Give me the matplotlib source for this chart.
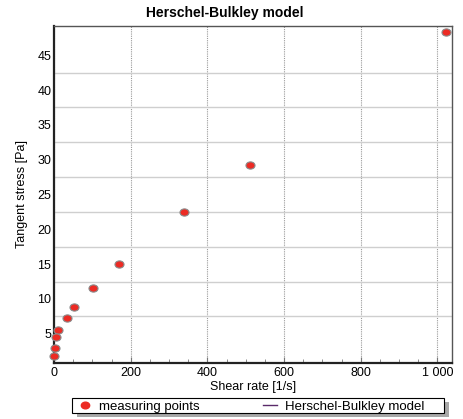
import numpy as np
import matplotlib
matplotlib.use("Agg")
from matplotlib import pyplot as plt
from matplotlib.lines import Line2D
from matplotlib.patches import Rectangle
from matplotlib.path import Path
from matplotlib.transforms import Affine2D
from matplotlib.ticker import FixedLocator, MultipleLocator, FuncFormatter

shear_rate = [1022, 511, 340, 170, 102, 51, 34, 10.2, 5.1, 3.0, 1.0]
stress = [48.4, 29.2, 22.5, 15.0, 11.6, 8.8, 7.2, 5.6, 4.6, 3.0, 1.8]

y_ticks = [5, 10, 15, 20, 25, 30, 35, 40, 45]
y_grid = [7.5, 12.5, 17.5, 22.5, 27.5, 32.5, 37.5, 42.5]
x_ticks = [0, 200, 400, 600, 800, 1000]

plt.rcParams["font.family"] = ["Liberation Sans", "DejaVu Sans"]

# flat ellipse marker like the original software
ellipse = Path.unit_circle().transformed(Affine2D().scale(1.25, 1.0))

W, H = 464, 419
fig = plt.figure(figsize=(W / 100, H / 100), dpi=100)
ax = fig.add_axes([0.1164, 0.1336, 0.8576, 0.8044])

ax.plot(shear_rate, stress, linestyle="none", marker=ellipse, markersize=6.5,
        markerfacecolor="#ec2b24", markeredgecolor="#8a8a8a", markeredgewidth=0.8,
        zorder=5, clip_on=False)

ax.set_xlim(0, 1038)
ax.set_ylim(0.8, 49.2)

ax.xaxis.set_major_locator(FixedLocator(x_ticks))
ax.xaxis.set_minor_locator(MultipleLocator(50))
ax.xaxis.set_major_formatter(FuncFormatter(lambda v, p: f"{int(v):,}".replace(",", " ")))
ax.yaxis.set_major_locator(FixedLocator(y_ticks))
ax.yaxis.set_minor_locator(FixedLocator(y_grid))

ax.grid(axis="x", which="major", color="#9a9a9a", linestyle=(0, (1, 1)), linewidth=0.8)
ax.grid(axis="y", which="minor", color="#cfcfcf", linestyle="-", linewidth=1.0)
ax.grid(axis="y", which="major", visible=False)

ax.tick_params(axis="x", which="major", direction="in", length=4, width=0.8,
               color="#777777", labelsize=9, pad=3)
ax.tick_params(axis="x", which="minor", direction="in", length=3, width=0.6, color="#777777")
ax.tick_params(axis="y", which="both", length=0, labelsize=9, pad=2)

for side in ["left", "bottom"]:
    ax.spines[side].set_color("#222222")
    ax.spines[side].set_linewidth(1.6)
for side in ["top", "right"]:
    ax.spines[side].set_color("#555555")
    ax.spines[side].set_linewidth(1.0)

fig.text(0.485, 0.968, "Herschel-Bulkley model", fontsize=10, fontweight="bold",
         ha="center", va="center")
ax.set_xlabel("Shear rate [1/s]", fontsize=9, labelpad=1)
ax.set_ylabel("Tangent stress [Pa]", fontsize=9, labelpad=7)

# legend box with a flat gray drop shadow, drawn by hand
box_x0, box_x1, box_y0, box_y1 = 72, 444, 6, 21
fig.patches.append(Rectangle(((box_x0 + 5) / W, (box_y0 - 4) / H), (box_x1 - box_x0) / W,
                             (box_y1 - box_y0) / H, transform=fig.transFigure,
                             facecolor="#a8a8a8", edgecolor="none", zorder=0))
fig.patches.append(Rectangle((box_x0 / W, box_y0 / H), (box_x1 - box_x0) / W,
                             (box_y1 - box_y0) / H, transform=fig.transFigure,
                             facecolor="white", edgecolor="black", linewidth=0.8, zorder=1))

handles = [
    Line2D([], [], linestyle="none", marker=ellipse, markersize=6,
           markerfacecolor="#ec2b24", markeredgecolor="#ec2b24"),
    Line2D([], [], color="#5a2a6a", linewidth=1.0),
]
leg = fig.legend(handles, ["measuring points", "Herschel-Bulkley model"],
                 loc="lower left", bbox_to_anchor=((box_x0 + 4) / W, (box_y0 - 1.5) / H),
                 ncol=2, fontsize=9.5, frameon=False,
                 borderpad=0.12, handlelength=1.05, handletextpad=0.6,
                 columnspacing=4.8, borderaxespad=0)
leg.set_zorder(2)

fig.savefig("out.png", dpi=100)
